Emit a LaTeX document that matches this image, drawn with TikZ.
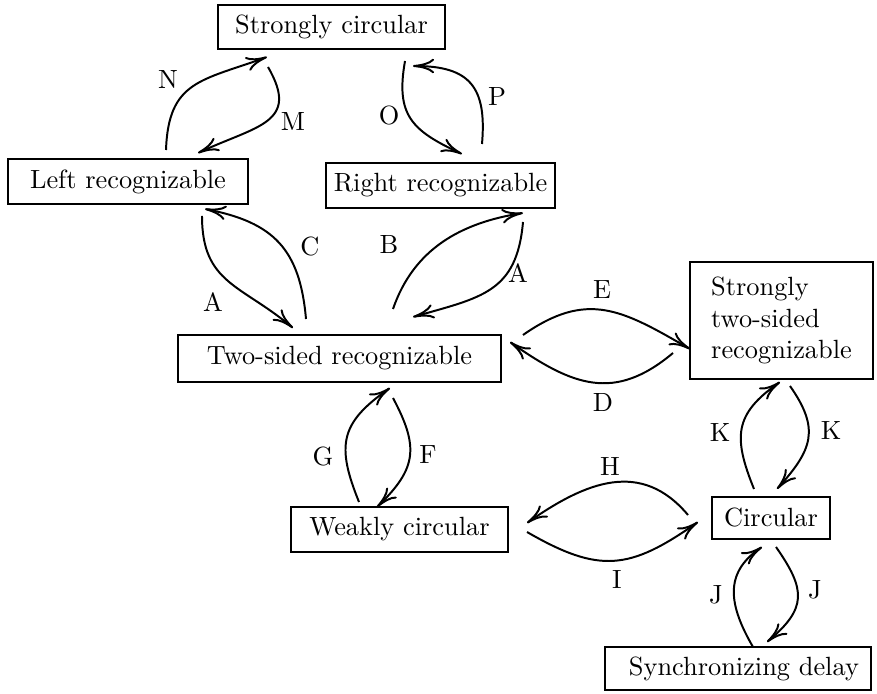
\documentclass[tikz,border=0pt]{standalone}
\usetikzlibrary{arrows.meta}
\begin{document}
\begin{tikzpicture}[x=0.3795pt,y=0.3795pt,
  box/.style={draw, line width=0.75pt, inner sep=0pt, minimum height=16.7pt},
  arr/.style={line width=0.75pt, -{To[length=8pt,width=5.5pt]}},
  lab/.style={inner sep=0pt}]
\useasboundingbox (0,0) rectangle (877,694);
% nodes
\node[box, minimum width=86.1pt] (sc) at (331.5,667) {Strongly circular};
\node[box, minimum width=91.1pt, minimum height=17.1pt] (lr) at (128,512.5) {Left recognizable};
\node[box, minimum width=86.9pt, minimum height=17.1pt] (rr) at (440.5,508.5) {Right recognizable};
\node[box, minimum width=122.6pt, minimum height=17.8pt] (ts) at (339.5,335.5) {Two-sided recognizable};
\node[box, minimum width=69.4pt, minimum height=44.4pt, align=left] (sts) at (781.5,373.5) {Strongly\\two-sided\\recognizable};
\node[box, minimum width=82.4pt, minimum height=17.1pt] (wc) at (399.5,164.5) {Weakly circular};
\node[box, minimum width=44.8pt, minimum height=15.9pt] (ci) at (771,176) {Circular};
\node[box, minimum width=100.9pt, minimum height=16.3pt] (sd) at (738,25.5) {\hspace*{4.5pt}Synchronizing delay};
% connectors
\draw[arr] ([shift={(38,31.5)}]lr.center) to[out=88,in=200,looseness=1.3] ([shift={(-64.5,-30)}]sc.center);
\draw[arr] ([shift={(-63.5,-40)}]sc.center) to[out=-60,in=25,looseness=1.5] ([shift={(70,28.5)}]lr.center);
\draw[arr] ([shift={(73.5,-34)}]sc.center) to[out=-100,in=155,looseness=1.3] ([shift={(21.5,31.5)}]rr.center);
\draw[arr] ([shift={(41.5,41.5)}]rr.center) to[out=85,in=0,looseness=1.4] ([shift={(81.5,-39)}]sc.center);
\draw[arr] ([shift={(74,-34.5)}]lr.center) to[out=-90,in=140,looseness=1.2] ([shift={(-46.5,30.5)}]ts.center);
\draw[arr] ([shift={(-33.5,39.5)}]ts.center) to[out=95,in=-11,looseness=1.2] ([shift={(77,-27.5)}]lr.center);
\draw[arr] ([shift={(53.5,49.5)}]ts.center) to[out=71,in=189] ([shift={(82.5,-27.5)}]rr.center);
\draw[arr] ([shift={(82.5,-36.5)}]rr.center) to[out=-95,in=16,looseness=1.25] ([shift={(73.5,41.5)}]ts.center);
\draw[arr] ([shift={(183.5,23.5)}]ts.center) to[out=35,in=150,looseness=1.2] ([shift={(-91.5,-28.5)}]sts.center);
\draw[arr] ([shift={(-108.5,-32.5)}]sts.center) to[out=-140,in=-35,looseness=1.2] ([shift={(170.5,16.5)}]ts.center);
\draw[arr] ([shift={(-17,29)}]ci.center) to[out=112,in=215,looseness=1.3] ([shift={(-1.5,-61.5)}]sts.center);
\draw[arr] ([shift={(8.5,-65.5)}]sts.center) to[out=-55,in=48,looseness=1.3] ([shift={(6,29)}]ci.center);
\draw[arr] ([shift={(-40.5,27.5)}]wc.center) to[out=112,in=215,looseness=1.32] ([shift={(50.5,-29.5)}]ts.center);
\draw[arr] ([shift={(53.5,-39.5)}]ts.center) to[out=-62,in=44,looseness=1.29] ([shift={(-22.5,22.5)}]wc.center);
\draw[arr] ([shift={(-83,3)}]ci.center) to[out=130,in=35,looseness=1.15] ([shift={(127.5,6.5)}]wc.center);
\draw[arr] ([shift={(127.5,-2.5)}]wc.center) to[out=-30,in=-145,looseness=1.25] ([shift={(-73,-4)}]ci.center);
\draw[arr] ([shift={(15,21.5)}]sd.center) to[out=120,in=214,looseness=1.2] ([shift={(-9,-29)}]ci.center);
\draw[arr] ([shift={(5,-29)}]ci.center) to[out=-55,in=40,looseness=1.4] ([shift={(29,26.5)}]sd.center);
% labels
\node[lab] (lN) at (168,614) {N};
\node[lab] (lM) at (293,572) {M};
\node[lab] (lO) at (389,578) {O};
\node[lab] (lP) at (497,597) {P};
\node[lab] (lA1) at (213,392) {A};
\node[lab] (lC) at (310,447) {C};
\node[lab] (lB) at (389,449) {B};
\node[lab] (lA2) at (518,421) {A};
\node[lab] (lE) at (602,404) {E};
\node[lab] (lD) at (603,291) {D};
\node[lab] (lK1) at (720,261) {K};
\node[lab] (lK2) at (831,263) {K};
\node[lab] (lG) at (323,237) {G};
\node[lab] (lF) at (428,239) {F};
\node[lab] (lH) at (610,227) {H};
\node[lab] (lI) at (617,114) {I};
\node[lab] (lJ1) at (716,99) {J};
\node[lab] (lJ2) at (815,104) {J};
\end{tikzpicture}
\end{document}
